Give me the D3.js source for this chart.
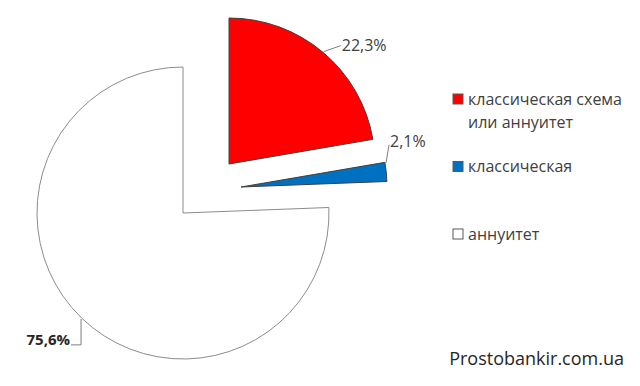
<!DOCTYPE html>
<html lang="ru">
<head>
    <meta charset="UTF-8">
    <title>Классическая схема или аннуитет</title>
    <script src="https://d3js.org/d3.v7.min.js"></script>
    <style>
        body { margin: 0; background: #fff; }
        text { font-family: "Open Sans", "DejaVu Sans", sans-serif; fill: #404040; }
        .legend text { font-size: 16px; }
        .label { font-size: 16px; }
        .leader { fill: none; stroke: #7f7f7f; stroke-width: 1; }
    </style>
</head>
<body>
    <div id="chart"></div>
    <script>
        // data
        const categories = ["классическая схема или аннуитет", "классическая", "аннуитет"];
        const legendLines = [["классическая схема", "или аннуитет"], ["классическая"], ["аннуитет"]];
        const values = [22.3, 2.1, 75.6];
        const valueLabels = ["22,3%", "2,1%", "75,6%"];
        const colors = ["#ff0000", "#0070c0", "#ffffff"];

        // layout
        const width = 640, height = 386;
        const center = [183, 213];
        const radius = 146;
        const explode = [[46, -49], [58, -26], [0, 0]];
        const leaderBend = [[17, -6], [3, -18], [0, 26]];

        const svg = d3.select("#chart")
            .append("svg")
            .attr("width", width)
            .attr("height", height);

        const pie = d3.pie().sort(null).value(d => d);
        const arcs = pie(values);
        const arc = d3.arc().innerRadius(0).outerRadius(radius);

        const slices = svg.selectAll(".slice")
            .data(arcs)
            .enter()
            .append("g")
            .attr("class", "slice")
            .attr("transform", (d, i) => `translate(${center[0] + explode[i][0]},${center[1] + explode[i][1]})`);

        slices.append("path")
            .attr("d", arc)
            .attr("fill", (d, i) => colors[i])
            .attr("stroke", (d, i) => i === 2 ? "#8c8c8c" : "#404040")
            .attr("stroke-width", 1);

        // leader lines and labels
        slices.each(function (d, i) {
            const g = d3.select(this);
            const a = i === 1 ? d.startAngle + 0.005 : (d.startAngle + d.endAngle) / 2;
            const p = [Math.sin(a) * (radius + 1), -Math.cos(a) * (radius + 1)];
            const b = [p[0] + leaderBend[i][0], p[1] + leaderBend[i][1]];
            if (i === 2) {
                g.append("path").attr("class", "leader")
                    .attr("d", d3.line()([p, b, [b[0] - 10, b[1]]]));
                g.append("text").attr("class", "label")
                    .attr("x", b[0] - 11).attr("y", b[1] - 5)
                    .attr("dy", "0.35em")
                    .attr("text-anchor", "end")
                    .attr("font-weight", "bold")
                    .style("font-size", "15px")
                    .style("fill", "#262626")
                    .text(valueLabels[i]);
            } else {
                g.append("path").attr("class", "leader")
                    .attr("d", d3.line()([p, b]));
                g.append("text").attr("class", "label")
                    .attr("x", b[0] + 1).attr("y", b[1] + (i === 1 ? -4 : 0))
                    .attr("dy", "0.35em")
                    .text(valueLabels[i]);
            }
        });

        // legend
        const legendY = d3.scalePoint().domain(categories).range([99, 234]);
        const legend = svg.append("g").attr("class", "legend");
        const items = legend.selectAll("g")
            .data(categories)
            .enter()
            .append("g")
            .attr("transform", d => `translate(453,${legendY(d)})`);

        items.append("rect")
            .attr("x", 0).attr("y", -5)
            .attr("width", 10).attr("height", 10)
            .attr("fill", (d, i) => colors[i])
            .attr("stroke", "#595959")
            .attr("stroke-width", 1);

        items.each(function (d, i) {
            const t = d3.select(this).append("text")
                .attr("x", 15).attr("y", 0);
            legendLines[i].forEach((line, j) => {
                t.append("tspan").attr("x", 15).attr("dy", j === 0 ? "0.35em" : "23").text(line);
            });
        });

        svg.append("text")
            .attr("x", 624).attr("y", 359)
            .attr("dy", "0.35em")
            .attr("text-anchor", "end")
            .style("font-size", "18px")
            .style("fill", "#262626")
            .text("Prostobankir.com.ua");
    </script>
</body>
</html>
